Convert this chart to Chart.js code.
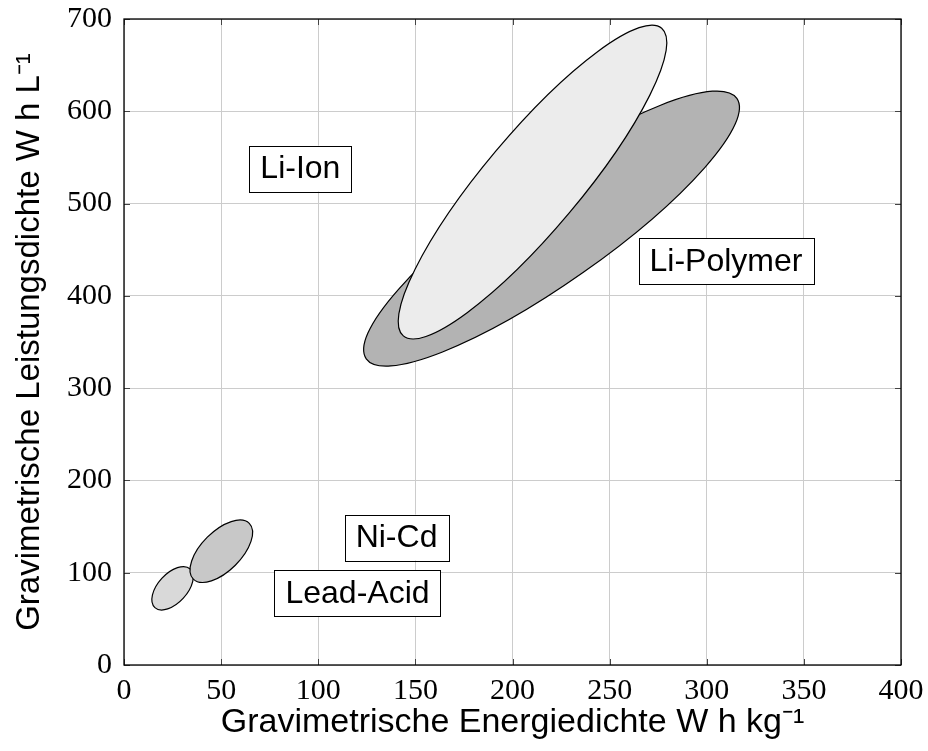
<!DOCTYPE html>
<html lang="de">
<head>
    <meta charset="UTF-8">
    <title>Energiedichte Akkutypen</title>
    <script src="https://cdn.jsdelivr.net/npm/chart.js"></script>
    <style>
        html, body { margin: 0; padding: 0; background: #fff; }
        #wrap { width: 928px; height: 751px; }
    </style>
</head>
<body>
    <div id="wrap"><canvas id="chart" width="928" height="751"></canvas></div>
    <script>
        // Bereiche (Ellipsen) in Datenkoordinaten: Mittelpunkt, Ende der Hauptachse, Ende der Nebenachse
        const names = ['Li-Polymer', 'Li-Ion', 'Lead-Acid', 'Ni-Cd'];
        const centers = [[220.1, 472.9], [210.3, 523.3], [25.0, 83.1], [50.1, 123.3]];
        const majorTips = [[315.5, 614.0], [276.8, 690.0], [34.1, 104.0], [64.5, 153.5]];
        const minorTips = [[236.1, 424.9], [229.2, 489.8], [30.5, 72.3], [57.3, 108.1]];
        const fills = ['#b3b3b3', '#ececec', '#d9d9d9', '#c8c8c8'];

        // Beschriftungen
        const labelNames = ['Li-Ion', 'Li-Polymer', 'Ni-Cd', 'Lead-Acid'];
        const labelPos = [[90.8, 537.9], [309.9, 437.7], [140.3, 138.1], [120.2, 78.0]];

        const xTicks = [0, 50, 100, 150, 200, 250, 300, 350, 400];
        const yTicks = [0, 100, 200, 300, 400, 500, 600, 700];

        const tickFont = { family: 'Liberation Serif', size: 30 };
        const sansFont = 'Liberation Sans';

        const ellipsePlugin = {
            id: 'ellipses',
            beforeDatasetsDraw(chart) {
                const { ctx, chartArea: a, scales: { x, y } } = chart;
                ctx.save();
                ctx.beginPath();
                ctx.rect(a.left, a.top, a.right - a.left, a.bottom - a.top);
                ctx.clip();
                names.forEach((n, i) => {
                    const cx = x.getPixelForValue(centers[i][0]);
                    const cy = y.getPixelForValue(centers[i][1]);
                    const mx = x.getPixelForValue(majorTips[i][0]) - cx;
                    const my = y.getPixelForValue(majorTips[i][1]) - cy;
                    const nx = x.getPixelForValue(minorTips[i][0]) - cx;
                    const ny = y.getPixelForValue(minorTips[i][1]) - cy;
                    const ra = Math.hypot(mx, my);
                    const rb = Math.abs(mx * ny - my * nx) / ra;
                    ctx.beginPath();
                    ctx.ellipse(cx, cy, ra, rb, Math.atan2(my, mx), 0, Math.PI * 2);
                    ctx.fillStyle = fills[i];
                    ctx.fill();
                    ctx.lineWidth = 1.2;
                    ctx.strokeStyle = '#000';
                    ctx.stroke();
                });
                ctx.restore();
            },
            afterDatasetsDraw(chart) {
                const { ctx, chartArea: a, scales: { x, y } } = chart;
                ctx.save();
                // Beschriftungskästen
                ctx.font = '32px ' + sansFont;
                ctx.textAlign = 'center';
                ctx.textBaseline = 'middle';
                labelNames.forEach((t, i) => {
                    const px = x.getPixelForValue(labelPos[i][0]);
                    const py = y.getPixelForValue(labelPos[i][1]);
                    const w = ctx.measureText(t).width + 22;
                    const h = 46;
                    ctx.fillStyle = '#fff';
                    ctx.fillRect(px - w / 2, py - h / 2, w, h);
                    ctx.strokeStyle = '#000';
                    ctx.lineWidth = 1;
                    ctx.strokeRect(Math.round(px - w / 2) + 0.5, Math.round(py - h / 2) + 0.5, Math.round(w), h);
                    ctx.fillStyle = '#000';
                    ctx.fillText(t, px, py + 1);
                });
                // Ticks nach innen, auf allen vier Seiten
                ctx.strokeStyle = '#444';
                ctx.lineWidth = 1;
                ctx.beginPath();
                xTicks.forEach(v => {
                    const px = Math.round(x.getPixelForValue(v)) + 0.5;
                    ctx.moveTo(px, a.bottom); ctx.lineTo(px, a.bottom - 6);
                    ctx.moveTo(px, a.top); ctx.lineTo(px, a.top + 6);
                });
                yTicks.forEach(v => {
                    const py = Math.round(y.getPixelForValue(v)) + 0.5;
                    ctx.moveTo(a.left, py); ctx.lineTo(a.left + 6, py);
                    ctx.moveTo(a.right, py); ctx.lineTo(a.right - 6, py);
                });
                ctx.stroke();
                // Rahmen
                ctx.strokeStyle = '#000';
                ctx.lineWidth = 1.3;
                ctx.strokeRect(a.left, a.top, a.right - a.left, a.bottom - a.top);
                ctx.restore();
            }
        };

        new Chart(document.getElementById('chart'), {
            type: 'scatter',
            data: { datasets: [{ data: [], pointRadius: 0 }] },
            options: {
                responsive: false,
                animation: false,
                layout: { padding: { top: 19, right: 27, left: 0, bottom: 0 } },
                plugins: { legend: { display: false }, tooltip: { enabled: false } },
                scales: {
                    x: {
                        type: 'linear', min: 0, max: 400,
                        afterBuildTicks(s) { s.ticks = xTicks.map(v => ({ value: v })); },
                        afterFit(s) { s.height = 86; s.paddingLeft = 0; s.paddingRight = 0; },
                        grid: { color: '#cccccc', drawTicks: false, lineWidth: 1 },
                        border: { display: false },
                        ticks: { font: tickFont, color: '#000', padding: 8, maxRotation: 0 },
                        title: {
                            display: true,
                            text: 'Gravimetrische Energiedichte W h kg⁻¹',
                            font: { family: sansFont, size: 34 },
                            color: '#000',
                            padding: { top: 0, bottom: 8 }
                        }
                    },
                    y: {
                        type: 'linear', min: 0, max: 700,
                        afterBuildTicks(s) { s.ticks = yTicks.map(v => ({ value: v })); },
                        afterFit(s) { s.width = 124; s.paddingTop = 0; s.paddingBottom = 0; },
                        grid: { color: '#cccccc', drawTicks: false, lineWidth: 1 },
                        border: { display: false },
                        ticks: { font: tickFont, color: '#000', padding: 12 },
                        title: {
                            display: true,
                            text: 'Gravimetrische Leistungsdichte W h L⁻¹',
                            font: { family: sansFont, size: 33 },
                            color: '#000',
                            padding: { top: 10, bottom: 0 }
                        }
                    }
                }
            },
            plugins: [ellipsePlugin]
        });
    </script>
</body>
</html>
